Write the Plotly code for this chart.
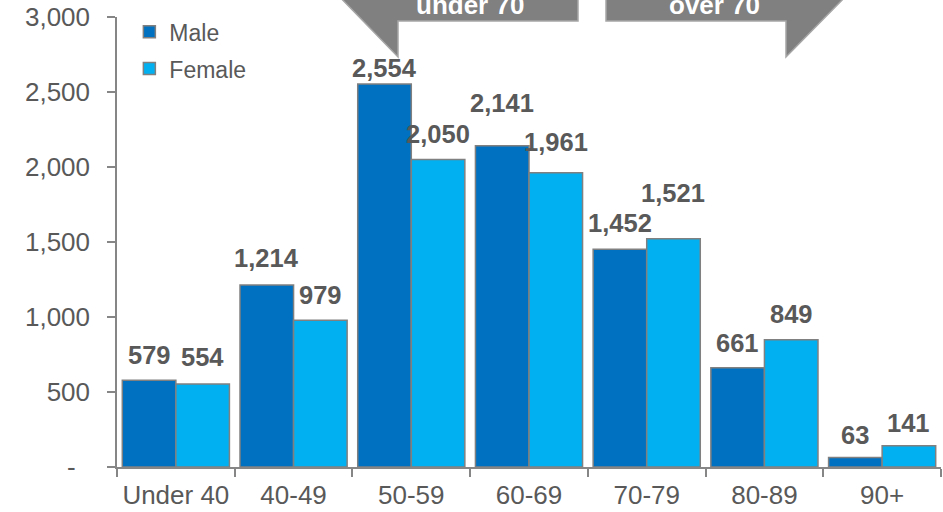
import plotly.graph_objects as go

# Age bands and counts by sex
age_bands = ["Under 40", "40-49", "50-59", "60-69", "70-79", "80-89", "90+"]
male = [579, 1214, 2554, 2141, 1452, 661, 63]
female = [554, 979, 2050, 1961, 1521, 849, 141]

y_ticks = [0, 500, 1000, 1500, 2000, 2500, 3000]
y_tick_text = ["-\u00a0\u00a0" if v == 0 else f"{v:,}" for v in y_ticks]

# Label lift above each bar top (pixels)
male_lift = [25, 27, 16, 43, 26, 25, 23]
female_lift = [27, 25, 26, 31, 46, 26, 23]

W, H = 943, 512
M_L, M_R, M_T, M_B = 117, 2, 17, 45
PLOT_W = W - M_L - M_R
PLOT_H = H - M_T - M_B
BARGAP = 0.09

MALE_C = "#0070C0"
FEMALE_C = "#00B0F0"
EDGE = "#808080"
AXIS_C = "#868686"
TEXT_C = "#595959"
FONT = "Liberation Sans, Arial, sans-serif"

fig = go.Figure()
fig.add_trace(go.Bar(name="Male", x=age_bands, y=male, marker=dict(color=MALE_C, line=dict(color=EDGE, width=1.5)),
                     legendgroup="m"))
fig.add_trace(go.Bar(name="Female", x=age_bands, y=female, marker=dict(color=FEMALE_C, line=dict(color=EDGE, width=1.5)),
                     legendgroup="f"))

# Value labels above bars
cat_w = PLOT_W / len(age_bands)
half = cat_w * (1 - BARGAP) / 4
annotations = []
for vals, lifts, dx in ((male, male_lift, -half), (female, female_lift, half)):
    for cat, v, lift in zip(age_bands, vals, lifts):
        annotations.append(dict(
            x=cat, y=v, xref="x", yref="y", text=f"<b>{v:,}</b>", showarrow=False,
            xshift=dx, yshift=lift, yanchor="middle", xanchor="center",
            font=dict(family=FONT, size=25.5, color=TEXT_C)))


def px_to_paper(px, py):
    return (px - M_L) / PLOT_W, (H - M_B - py) / PLOT_H


def path_from(points):
    pts = [px_to_paper(*p) for p in points]
    return "M " + " L ".join(f"{x:.5f},{y:.5f}" for x, y in pts) + " Z"


# Callout arrows along the top
left_arrow = [(333, -10), (578, -10), (578, 21), (398, 21), (398, 57)]
right_arrow = [(606, -10), (852, -10), (786, 57), (786, 21), (606, 21)]
shapes = []
for pts in (left_arrow, right_arrow):
    shapes.append(dict(type="path", xref="paper", yref="paper", path=path_from(pts),
                       fillcolor="#808080", line=dict(color="#A6A6A6", width=1.5), layer="above"))

for label, cx in (("under 70", 470), ("over 70", 714)):
    x, y = px_to_paper(cx, 5)
    annotations.append(dict(x=x, y=y, xref="paper", yref="paper", text=f"<b>{label}</b>",
                            showarrow=False, xanchor="center", yanchor="middle",
                            font=dict(family=FONT, size=26, color="white")))

fig.update_layout(
    width=W, height=H,
    margin=dict(l=M_L, r=M_R, t=M_T, b=M_B, pad=0),
    paper_bgcolor="white", plot_bgcolor="white",
    barmode="group", bargap=BARGAP, bargroupgap=0,
    font=dict(family=FONT, color=TEXT_C),
    showlegend=True,
    legend=dict(x=0.015, y=1.015, xanchor="left", yanchor="top", bgcolor="rgba(0,0,0,0)",
                font=dict(size=23, color=TEXT_C), tracegroupgap=4, itemwidth=30),
    annotations=annotations,
    shapes=shapes,
)
fig.update_xaxes(
    showline=True, linecolor=AXIS_C, linewidth=1.5, showgrid=False,
    ticks="outside", tickson="boundaries", ticklen=8, tickcolor=AXIS_C, tickwidth=1.5,
    tickfont=dict(family=FONT, size=26, color=TEXT_C), ticklabelstandoff=4,
)
fig.update_yaxes(
    range=[0, 3000], showline=True, linecolor=AXIS_C, linewidth=1.5, showgrid=False,
    tickvals=y_ticks, ticktext=y_tick_text, ticks="outside", ticklen=8, tickcolor=AXIS_C, tickwidth=1.5,
    tickfont=dict(family=FONT, size=26, color=TEXT_C), ticklabelstandoff=12, zeroline=False,
)

fig.write_html("out.html")
